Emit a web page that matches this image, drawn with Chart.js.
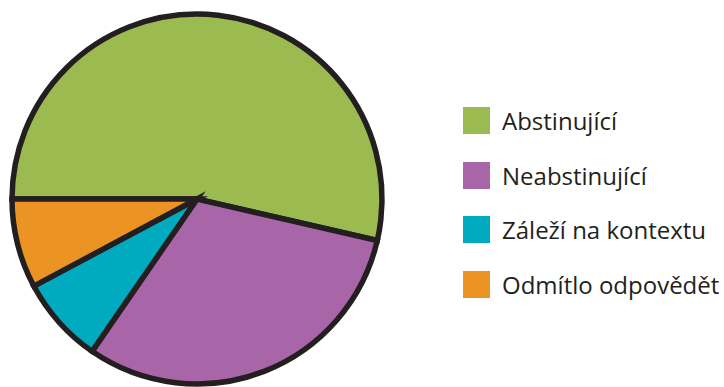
<!DOCTYPE html>
<html>
<head>
<meta charset="utf-8">
<script src="https://cdn.jsdelivr.net/npm/chart.js@4"></script>
<style>
  html, body { margin: 0; padding: 0; background: #fff; }
  #wrap { position: relative; width: 724px; height: 387px; }
  #chartBox { position: absolute; left: 0; top: 0; width: 394px; height: 398px; }
  #legend { position: absolute; left: 463px; top: 107px; font-family: "Open Sans", sans-serif; font-size: 24px; color: #231f20; }
  .item { display: flex; align-items: center; height: 27px; margin-bottom: 27.5px; white-space: nowrap; }
  .box { width: 27px; height: 27px; margin-right: 12px; }
</style>
</head>
<body>
<div id="wrap">
  <div id="chartBox"><canvas id="pieChart" width="394" height="398"></canvas></div>
  <div id="legend"></div>
</div>
<script>
const categories = ['Abstinující', 'Neabstinující', 'Záleží na kontextu', 'Odmítlo odpovědět'];
const shares = [53.6, 31.0, 7.6, 7.8];
const colors = ['#9bbb50', '#a866a8', '#00abbf', '#eb9424'];

const legend = document.getElementById('legend');
categories.forEach((name, i) => {
    const row = document.createElement('div');
    row.className = 'item';
    const box = document.createElement('span');
    box.className = 'box';
    box.style.background = colors[i];
    const label = document.createElement('span');
    label.textContent = name;
    row.appendChild(box);
    row.appendChild(label);
    legend.appendChild(row);
});

const ctx = document.getElementById('pieChart').getContext('2d');
new Chart(ctx, {
    type: 'pie',
    data: {
        labels: categories,
        datasets: [{
            data: shares,
            backgroundColor: colors,
            borderColor: '#231f20',
            borderWidth: 5.5,
            borderJoinStyle: 'miter'
        }]
    },
    options: {
        responsive: false,
        animation: false,
        rotation: -90,
        radius: 185,
        layout: { padding: 0 },
        plugins: {
            legend: { display: false },
            tooltip: { enabled: false }
        }
    }
});
</script>
</body>
</html>
